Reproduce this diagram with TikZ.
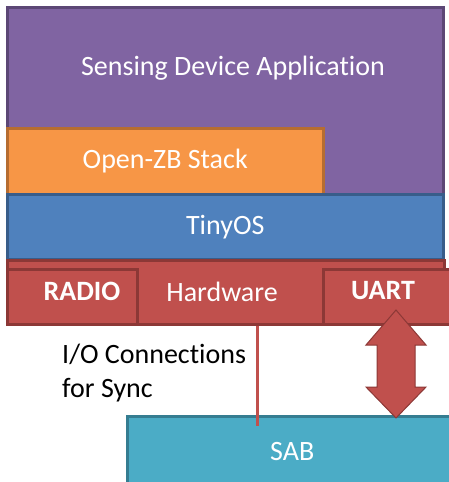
\documentclass[tikz,border=0pt]{standalone}
\usepackage{fontspec}
\setmainfont{Carlito}[Ligatures={NoCommon}]
\usepackage{xcolor}

\definecolor{appc}{HTML}{8064A2}
\definecolor{appb}{HTML}{5C4776}
\definecolor{stackc}{HTML}{F79646}
\definecolor{stackb}{HTML}{B66D31}
\definecolor{osc}{HTML}{4F81BD}
\definecolor{osb}{HTML}{385D8A}
\definecolor{hwc}{HTML}{C0504D}
\definecolor{hwb}{HTML}{8C3836}
\definecolor{sabc}{HTML}{4BACC6}
\definecolor{sabb}{HTML}{357D91}

\begin{document}
\begin{tikzpicture}[
            x = 1pt, y = -1pt, % pixel grid, y down
            layer/.style = {shape=rectangle, line width=2.5pt, inner sep=0pt,
                            anchor=north west, text=white, font=\fontsize{28}{32}\selectfont},
            port/.style = {layer, font=\fontsize{28}{32}\selectfont\bfseries},
            txt/.style = {text=white, inner sep=0pt, font=\fontsize{28}{32}\selectfont}
        ]
\useasboundingbox (0,0) rectangle (448,482);

% software layers
\node[layer, fill=appc, draw=appb, minimum width=436pt, minimum height=187pt] (app) at (6,6) {};
\node[txt] (applbl) at (233,68) {Sensing Device Application};
\node[layer, fill=stackc, draw=stackb, minimum width=316pt, minimum height=66pt] (stack) at (6,127) {Open-ZB Stack};
\node[layer, fill=osc, draw=osb, minimum width=436pt, minimum height=65pt] (os) at (6,193) {TinyOS};

% hardware
\node[layer, fill=hwc, draw=hwb, minimum width=437pt, minimum height=64pt] (hw) at (6,259) {};
\node[txt] (hwlbl) at (222,292) {Hardware};
\node[port, fill=hwc, draw=hwb, minimum width=130pt, minimum height=55pt] (radio) at (6,268) {};
\node[txt, font=\fontsize{28}{32}\selectfont\bfseries] (radiolbl) at (82,291) {RADIO};
\node[port, fill=hwc, draw=hwb, minimum width=130pt, minimum height=55pt] (uart) at (322,268) {};
\node[txt, font=\fontsize{28}{32}\selectfont\bfseries] (uartlbl) at (383,291) {UART};

% sensor acquisition board
\node[layer, fill=sabc, draw=sabb, minimum width=330pt, minimum height=70pt] (sab) at (126,415) {SAB};

% connections
\coordinate (sync) at (257,426);
\draw[hwc, line width=3pt] (hw.south -| sync) -- (sync);
\node[anchor=base west, inner sep=0pt, align=left, font=\fontsize{28}{34}\selectfont] (synclbl) at (62,397) {I/O Connections\\for Sync};

\coordinate (up) at (396,310);
\coordinate (down) at (396,418);
\draw[fill=hwc, draw=hwb, line width=1pt, line join=miter]
    (up) -- ++(30,35) -- ++(-11,0) -- ++(0,42) -- ++(11,0) -- (down)
    -- ++(-30,-31) -- ++(11,0) -- ++(0,-42) -- ++(-11,0) -- cycle;

\end{tikzpicture}
\end{document}
